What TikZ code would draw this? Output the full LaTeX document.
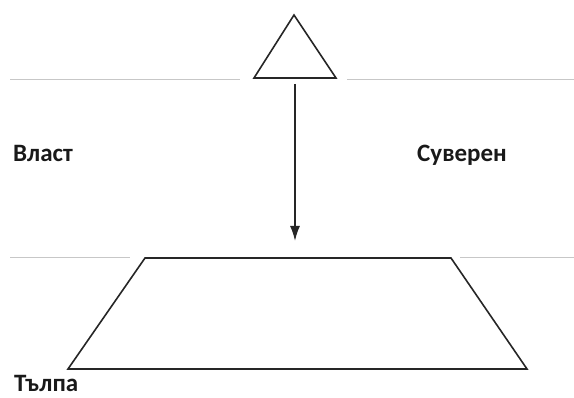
\documentclass[tikz,border=0pt]{standalone}
\usepackage{fontspec}
\setmainfont{Carlito}
\usetikzlibrary{arrows.meta}
\begin{document}
\begin{tikzpicture}[x=1pt,y=-1pt,
  shape line/.style={line width=1.6pt,line join=miter,black!85},
  guide/.style={line width=0.9pt,black!22},
  label/.style={font=\fontsize{25}{28}\selectfont\bfseries,text=black!90,inner sep=0pt,anchor=base west}]
\useasboundingbox (0,0) rectangle (574,398);
% guide lines
\draw[guide] (10,79) -- (240,79);
\draw[guide] (347,79) -- (574,79);
\draw[guide] (10,257) -- (130,257);
\draw[guide] (460,257) -- (574,257);
% triangle
\coordinate (apex) at (294,15);
\coordinate (tl) at (254,78);
\coordinate (tr) at (336,78);
\draw[shape line] (apex) -- (tr) -- (tl) -- cycle;
% trapezoid
\coordinate (a) at (145,258);
\coordinate (b) at (451,258);
\coordinate (c) at (527,369);
\coordinate (d) at (68,369);
\draw[shape line] (a) -- (b) -- (c) -- (d) -- cycle;
% arrow
\coordinate (from) at (295,84);
\coordinate (to) at (295,241);
\draw[line width=1.6pt,black!85,-{Latex[length=15pt,width=10pt]}] (from) -- (to);
% labels
\node[label] (vlast) at (13,162) {Власт};
\node[label] (suveren) at (417,162) {Суверен};
\node[label] (talpa) at (14,392) {Тълпа};
\end{tikzpicture}
\end{document}
